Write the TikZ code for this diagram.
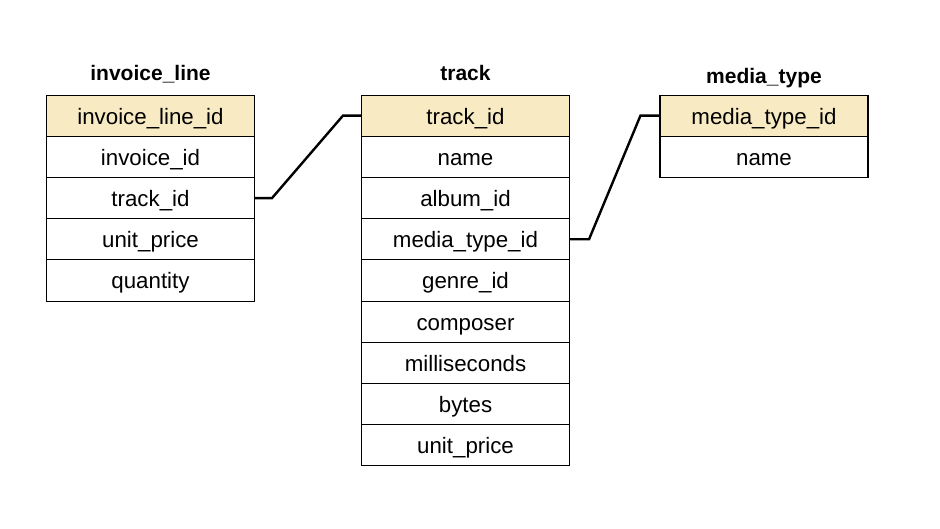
\documentclass[tikz,border=0pt]{standalone}
\usepackage{fontspec}
\setmainfont{Liberation Sans}
\definecolor{keyfill}{HTML}{F8EAC2}
\begin{document}
\begin{tikzpicture}[x=1pt,y=-1pt,
  cell/.style={draw=black,line width=1.1pt,minimum width=208pt,minimum height=41.2pt,inner sep=0pt,anchor=north,font=\fontsize{22.3}{26}\selectfont,text height=17pt,text depth=0pt},
  keycell/.style={cell,fill=keyfill},
  ttl/.style={font=\bfseries\fontsize{21}{25}\selectfont,inner sep=0pt,anchor=base},
  rel/.style={line width=2.4pt,line join=miter}]
\useasboundingbox (0,0) rectangle (940,528);
% invoice_line
\node[ttl] (tIL) at (150.5,80) {invoice\_line};
\node[keycell] (il1) at (150.5,94.5) {invoice\_line\_id};
\foreach \t [count=\i from 2] in {invoice\_id,track\_id,unit\_price,quantity}{
  \node[cell] (il\i) at (150.5,94.5+41.2*\i-41.2) {\t};
}
% track
\node[ttl] (tTR) at (465.5,80) {track};
\node[keycell] (tr1) at (465.5,94.5) {track\_id};
\foreach \t [count=\i from 2] in {name,album\_id,media\_type\_id,genre\_id,composer,milliseconds,bytes,unit\_price}{
  \node[cell] (tr\i) at (465.5,94.5+41.2*\i-41.2) {\t};
}
% media_type
\node[ttl] (tMT) at (764,83) {media\_type};
\node[keycell] (mt1) at (764,94.5) {media\_type\_id};
\node[cell] (mt2) at (764,135.7) {name};
% relations
\draw[rel] (il3.east) -- ++(17,0) -- ([xshift=-18pt]tr1.west) -- (tr1.west);
\draw[rel] (tr4.east) -- ++(19,0) -- ([xshift=-19pt]mt1.west) -- (mt1.west);
\end{tikzpicture}
\end{document}
